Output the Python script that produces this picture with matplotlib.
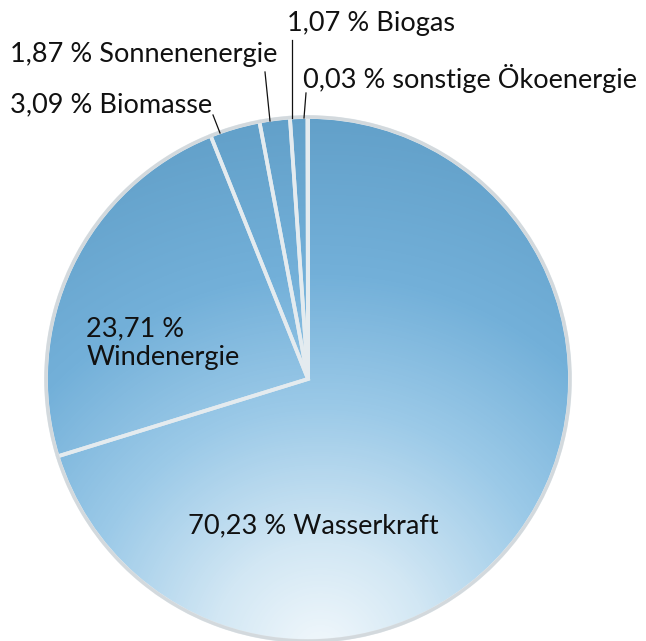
import numpy as np
import matplotlib
matplotlib.use("Agg")
import matplotlib.pyplot as plt
from matplotlib.colors import LinearSegmentedColormap
from matplotlib.patches import Circle

# ---- data ----
categories = ["Wasserkraft", "Windenergie", "Biomasse", "Sonnenenergie", "Biogas", "sonstige Ökoenergie"]
values = [70.23, 23.71, 3.09, 1.87, 1.07, 0.03]
value_labels = ["70,23 %", "23,71 %", "3,09 %", "1,87 %", "1,07 %", "0,03 %"]

W, H = 646, 641
fig = plt.figure(figsize=(W / 100, H / 100), dpi=100)
ax = fig.add_axes([0, 0, 1, 1])

cx, cy, r = 308, H - 379, 262

# pie wedges (outlines only; fill comes from gradient image)
wedges, _ = ax.pie(values, startangle=90, counterclock=False, center=(cx, cy), radius=r,
                   wedgeprops=dict(facecolor="none", edgecolor="#e4ebef", linewidth=2.7))

# gradient fill clipped to the pie
yy, xx = np.mgrid[0:H, 0:W]
d = np.sqrt((xx - 320.0) ** 2 + (yy - (-12.0)) ** 2) / 540.0
cmap = LinearSegmentedColormap.from_list("blu", [
    (0.0, "#f2f8fc"), (0.2, "#d2e7f4"), (0.45, "#9ccae8"),
    (0.7, "#73b0d9"), (1.0, "#62a0c9")])
im = ax.imshow(np.clip(d, 0, 1), extent=(0, W, 0, H), origin="lower", cmap=cmap,
               vmin=0, vmax=1, zorder=0, interpolation="bilinear")
im.set_clip_path(Circle((cx, cy), r, transform=ax.transData))

# rim
ax.add_patch(Circle((cx, cy), r, facecolor="none", edgecolor="#d3d9dd", linewidth=2.4, zorder=3))

font = dict(family=["Lato", "DejaVu Sans"], fontsize=19.5, color="#111111", va="baseline", ha="left")

def py(v):
    return H - v

# labels
ax.text(188, py(533), f"{value_labels[0]} {categories[0]}", **font)
ax.text(86, py(336), value_labels[1], **font)
ax.text(87, py(365), categories[1], **font)
ax.text(10, py(112), f"{value_labels[2]} {categories[2]}", **font)
ax.text(10, py(62), f"{value_labels[3]} {categories[3]}", **font)
ax.text(287, py(31), f"{value_labels[4]} {categories[4]}", **font)
ax.text(303, py(88), f"{value_labels[5]} {categories[5]}", **font)

# leader lines
leaders = [((213, 115), (220, 133)), ((265, 72), (270, 121)),
           ((292, 40), (292, 118)), ((306, 93), (304, 118))]
for (x0, y0), (x1, y1) in leaders:
    ax.plot([x0, x1], [py(y0), py(y1)], color="#111111", lw=0.9, zorder=4)

ax.set_xlim(0, W)
ax.set_ylim(0, H)
ax.set_aspect("equal")
ax.axis("off")
fig.savefig("out.png", dpi=100)
